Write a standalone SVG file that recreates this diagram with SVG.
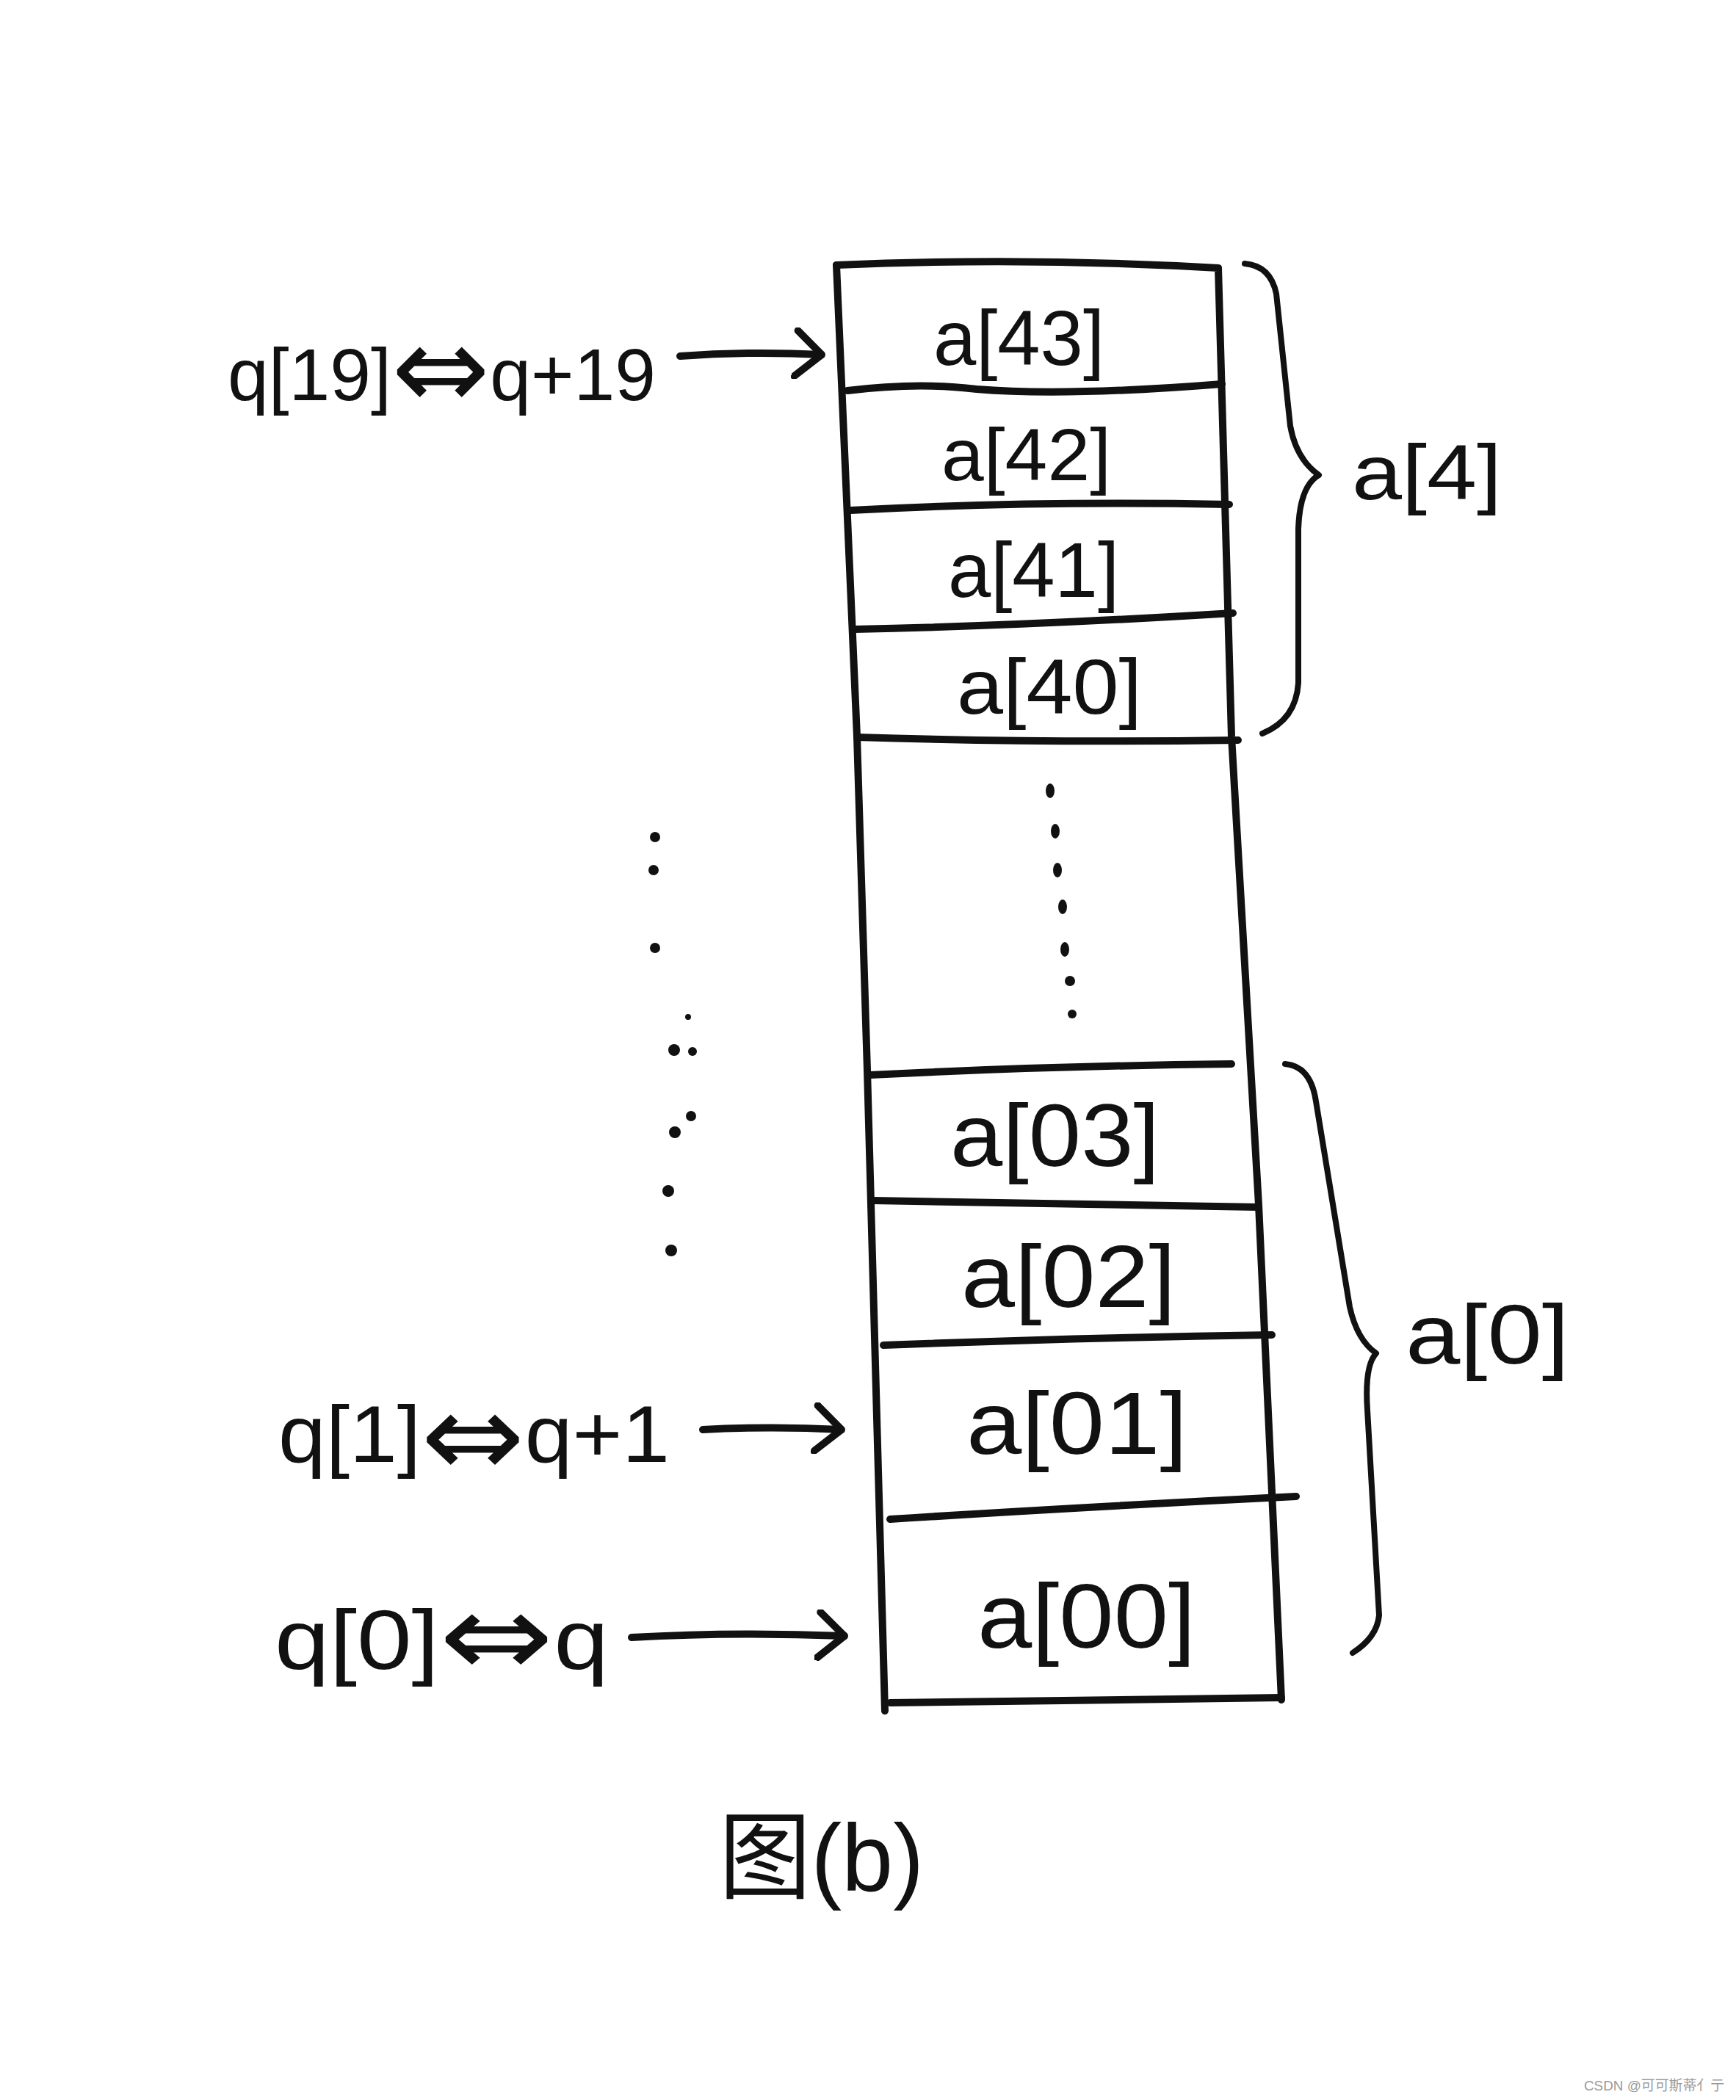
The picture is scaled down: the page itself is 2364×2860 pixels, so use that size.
<svg xmlns="http://www.w3.org/2000/svg" width="2364" height="2860" viewBox="0 0 2364 2860">
<style>
.ln{fill:none;stroke:#111;stroke-width:10;stroke-linecap:round;stroke-linejoin:round}
.br{fill:none;stroke:#111;stroke-width:8;stroke-linecap:round;stroke-linejoin:round}
.t{font-family:"Liberation Sans","DejaVu Sans",sans-serif;fill:#111}
.eq{font-family:"DejaVu Sans",sans-serif;font-size:160px}
.cap{font-family:"Liberation Sans","Noto Sans CJK SC",sans-serif;fill:#111}
.wm{font-family:"Liberation Sans","Noto Sans CJK SC",sans-serif;fill:#9a9a9a;font-size:19px}
.dot{fill:#111}
</style>
<defs>
<marker id="head" markerUnits="userSpaceOnUse" viewBox="0 0 44 70" markerWidth="44" markerHeight="70" refX="40" refY="35" orient="auto">
<path d="M6,4 L40,35 L4,66" fill="none" stroke="#111" stroke-width="10" stroke-linecap="round" stroke-linejoin="round"/>
</marker>
</defs>
<rect width="2364" height="2860" fill="#fff"/>

<g id="memory-block">
<path class="ln" d="M1139,361 Q1400,350 1659,365 L1677,1003 L1714,1641 L1745,2315"/>
<path class="ln" d="M1139,361 L1167,1003 L1181,1458 L1205,2330"/>
<path class="ln" d="M1212,2319 L1745,2312"/>
</g>

<g id="cell-a43">
<path class="ln" d="M1154,532 Q1250,520 1330,530 Q1450,540 1664,523"/>
<text class="t" x="1271" y="497" font-size="105" textLength="233" lengthAdjust="spacingAndGlyphs">a[43]</text>
</g>
<g id="cell-a42">
<path class="ln" d="M1158,695 Q1400,682 1674,687"/>
<text class="t" x="1282" y="654" font-size="100" textLength="231" lengthAdjust="spacingAndGlyphs">a[42]</text>
</g>
<g id="cell-a41">
<path class="ln" d="M1163,857 Q1400,852 1679,835"/>
<text class="t" x="1291" y="813" font-size="105" textLength="233" lengthAdjust="spacingAndGlyphs">a[41]</text>
</g>
<g id="cell-a40">
<path class="ln" d="M1167,1004 Q1420,1012 1686,1008"/>
<text class="t" x="1303" y="972" font-size="105" textLength="252" lengthAdjust="spacingAndGlyphs">a[40]</text>
</g>

<g id="ellipsis-inner">
<ellipse class="dot" cx="1430" cy="1077" rx="6" ry="10"/>
<ellipse class="dot" cx="1437" cy="1132" rx="6" ry="10"/>
<ellipse class="dot" cx="1440" cy="1185" rx="6" ry="10"/>
<ellipse class="dot" cx="1447" cy="1235" rx="6" ry="10"/>
<ellipse class="dot" cx="1450" cy="1293" rx="6" ry="10"/>
<ellipse class="dot" cx="1457" cy="1336" rx="7" ry="7"/>
<ellipse class="dot" cx="1460" cy="1381" rx="6" ry="6"/>
</g>

<g id="ellipsis-left">
<circle class="dot" cx="892" cy="1140" r="7"/>
<circle class="dot" cx="890" cy="1185" r="7"/>
<circle class="dot" cx="892" cy="1291" r="7"/>
<circle class="dot" cx="937" cy="1385" r="4"/>
<circle class="dot" cx="918" cy="1430" r="8"/>
<circle class="dot" cx="943" cy="1432" r="6"/>
<circle class="dot" cx="941" cy="1520" r="7"/>
<circle class="dot" cx="919" cy="1542" r="8"/>
<circle class="dot" cx="910" cy="1622" r="8"/>
<circle class="dot" cx="914" cy="1703" r="8"/>
</g>

<g id="cell-a03">
<path class="ln" d="M1185,1464 Q1420,1452 1677,1449"/>
<text class="t" x="1294" y="1588" font-size="120" textLength="285" lengthAdjust="spacingAndGlyphs">a[03]</text>
</g>
<g id="cell-a02">
<path class="ln" d="M1189,1635 Q1450,1640 1714,1644"/>
<text class="t" x="1309" y="1780" font-size="120" textLength="292" lengthAdjust="spacingAndGlyphs">a[02]</text>
</g>
<g id="cell-a01">
<path class="ln" d="M1203,1832 Q1460,1822 1732,1818"/>
<text class="t" x="1316" y="1980" font-size="120" textLength="301" lengthAdjust="spacingAndGlyphs">a[01]</text>
</g>
<g id="cell-a00">
<path class="ln" d="M1212,2069 Q1480,2052 1765,2038"/>
<text class="t" x="1331" y="2244" font-size="125" textLength="297" lengthAdjust="spacingAndGlyphs">a[00]</text>
</g>

<g id="group-a4">
<path class="br" d="M1695,359 Q1730,362 1738,400 L1757,580 Q1765,625 1796,647 Q1770,662 1768,720 L1768,930 Q1765,980 1719,999"/>
<text class="t" x="1841" y="680" font-size="105" textLength="204" lengthAdjust="spacingAndGlyphs">a[4]</text>
</g>
<g id="group-a0">
<path class="br" d="M1750,1449 Q1785,1452 1792,1500 L1838,1780 Q1848,1825 1874,1843 Q1858,1860 1862,1920 L1878,2200 Q1875,2230 1842,2251"/>
<text class="t" x="1914" y="1857" font-size="115" textLength="223" lengthAdjust="spacingAndGlyphs">a[0]</text>
</g>

<g id="ptr-q19">
<text class="t" x="310" y="545" font-size="100" textLength="583" lengthAdjust="spacingAndGlyphs">q[19]<tspan class="eq" dy="12">⇔</tspan><tspan dy="-12">q+19</tspan></text>
</g>
<g id="ptr-q1">
<text class="t" x="379" y="1991" font-size="110" textLength="533" lengthAdjust="spacingAndGlyphs">q[1]<tspan class="eq" dy="20">⇔</tspan><tspan dy="-20">q+1</tspan></text>
</g>
<g id="ptr-q0">
<text class="t" x="374" y="2273" font-size="115" textLength="455" lengthAdjust="spacingAndGlyphs">q[0]<tspan class="eq" dy="10">⇔</tspan><tspan dy="-10">q</tspan></text>
</g>

<g id="connectors">
<path class="ln" d="M926,485 Q1020,478 1119,483" marker-end="url(#head)"/>
<path class="ln" d="M957,1947 Q1050,1942 1146,1947" marker-end="url(#head)"/>
<path class="ln" d="M860,2230 Q1000,2222 1150,2228" marker-end="url(#head)"/>
</g>

<g id="caption">
<text class="cap" x="979" y="2575" font-size="130" textLength="279" lengthAdjust="spacingAndGlyphs">图(b)</text>
</g>
<text class="wm" x="2157" y="2847" textLength="191" lengthAdjust="spacingAndGlyphs">CSDN @可可斯蒂亻亍</text>
</svg>
